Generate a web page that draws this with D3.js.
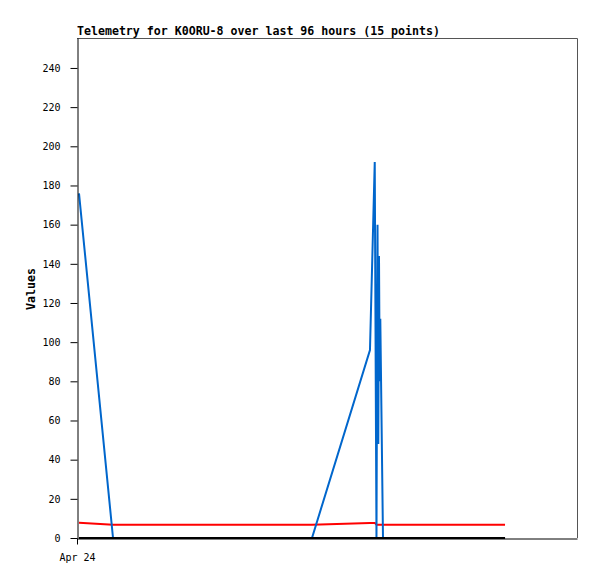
<!DOCTYPE html>
<html>
<head>
<meta charset="utf-8">
<script src="https://cdn.jsdelivr.net/npm/d3@7"></script>
<style>
  body { margin: 0; background: #fff; }
  svg { display: block; }
  .tick text { font-family: "DejaVu Sans Mono", monospace; font-size: 10px; fill: #000; }
  .series { fill: none; stroke-width: 2; stroke-linejoin: miter; }
</style>
</head>
<body>
<svg id="chart" width="597" height="579"></svg>
<script>

// packet times (local)
var times = [
  '2024-04-24T00:23', '2024-04-24T06:55', '2024-04-25T21:07', '2024-04-26T08:15',
  '2024-04-26T09:10', '2024-04-26T09:30', '2024-04-26T09:42', '2024-04-26T09:51',
  '2024-04-26T09:59', '2024-04-26T10:07', '2024-04-26T10:14', '2024-04-26T10:45',
  '2024-04-27T10:11'
];
var blueValues  = [176, 0, 0, 96, 192, 0, 160, 48, 144, 80, 112, 0, 0];
var redValues   = [7.8, 6.8, 6.8, 7.7, 7.7, 6.8, 6.8, 6.8, 6.8, 6.8, 6.8, 6.8, 6.8];
var blackValues = [0, 0, 0, 0, 0, 0, 0, 0, 0, 0, 0, 0, 0];

var yTicks = [0, 20, 40, 60, 80, 100, 120, 140, 160, 180, 200, 220, 240];
var xTicks = ['2024-04-24T00:00'];
var rangeStart = '2024-04-24T00:00',
    rangeHours = 96,
    yMax = 255.3;

var title = 'Telemetry for K0ORU-8 over last 96 hours (15 points)';

var svg = d3.select('#chart'),
    padLeft = 77, padTop = 38, plotW = 500, plotH = 500,
    t0 = new Date(rangeStart),
    x = d3.scaleTime()
          .domain([t0, d3.timeHour.offset(t0, rangeHours)])
          .range([padLeft, padLeft + plotW]),
    y = d3.scaleLinear()
          .domain([0, yMax])
          .range([padTop + plotH, padTop])
    ;

var rows = times.map(function(t, i) {
  return { t: new Date(t), blue: blueValues[i], red: redValues[i], black: blackValues[i] };
});

// frame (top and right in grey)
svg.append('path')
    .attr('d', 'M' + padLeft + ',' + (padTop + 0.5) + 'H' + (padLeft + plotW + 0.5) + 'V' + (padTop + plotH))
    .attr('fill', 'none')
    .attr('stroke', '#555')
    .attr('stroke-width', 1)
  ;

function lineFor(key) {
  return d3.line()
      .x(function(d) { return x(d.t); })
      .y(function(d) { return y(d[key]); });
}

var series = [
  { key: 'red', color: '#ff0000' },
  { key: 'blue', color: '#0066cc' },
  { key: 'black', color: '#000000' }
];

series.forEach(function(s) {
  svg.append('path')
      .datum(rows)
      .attr('class', 'series')
      .attr('stroke', s.color)
      .attr('d', lineFor(s.key))
    ;
});

svg.append('g')
    .attr('transform', 'translate(' + (padLeft + 0.5) + ',0)')
    .call(d3.axisLeft(y).tickValues(yTicks).tickSize(7).tickPadding(10).tickSizeOuter(0))
  ;

svg.append('g')
    .attr('transform', 'translate(0,' + (padTop + plotH + 0.5) + ')')
    .call(d3.axisBottom(x)
      .tickValues(xTicks.map(function(d) { return new Date(d); }))
      .tickFormat(d3.timeFormat('%b %d'))
      .tickSize(6).tickPadding(9).tickSizeOuter(0))
  ;

svg.selectAll('.domain').attr('stroke', '#000');

svg.append('text')
    .attr('x', padLeft)
    .attr('y', 34.5)
    .attr('font-family', 'DejaVu Sans Mono, monospace')
    .attr('font-weight', 'bold')
    .attr('font-size', '11.6px')
    .text(title)
  ;

svg.append('text')
    .attr('transform', 'translate(35,289) rotate(-90)')
    .attr('text-anchor', 'middle')
    .attr('font-family', 'DejaVu Sans Mono, monospace')
    .attr('font-weight', 'bold')
    .attr('font-size', '11.6px')
    .text('Values')
  ;

</script>
</body>
</html>
